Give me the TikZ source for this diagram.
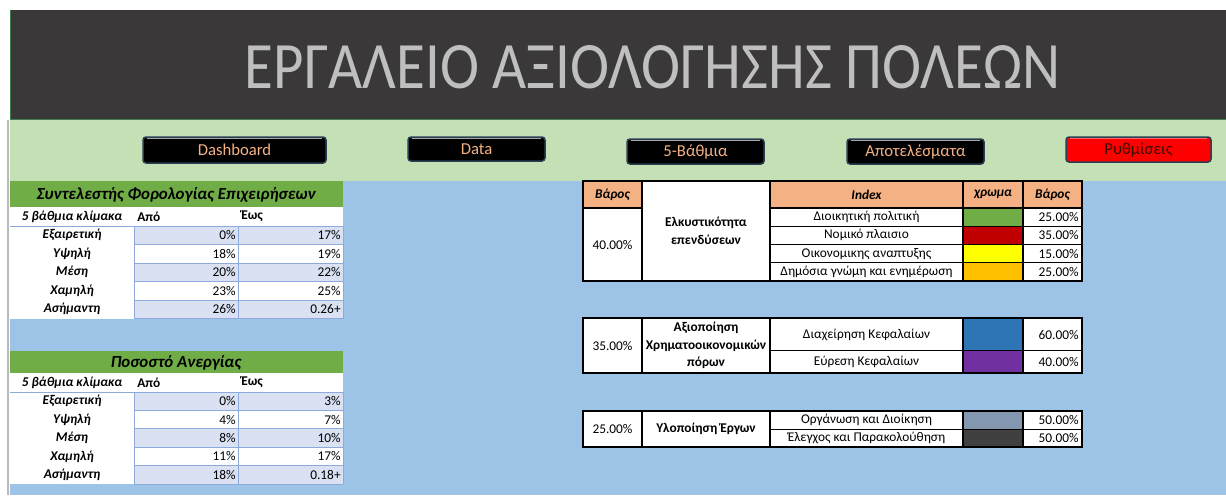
\documentclass[tikz,border=0pt]{standalone}
\usepackage{fontspec}
\usepackage{graphicx}
\setmainfont{Carlito}
\usetikzlibrary{positioning}

\definecolor{hdrdark}{HTML}{3A3838}
\definecolor{titlegray}{HTML}{BFBFBF}
\definecolor{bandgreen}{HTML}{C5E0B4}
\definecolor{sheetblue}{HTML}{9DC3E6}
\definecolor{edgegreen}{HTML}{3F7F4F}
\definecolor{tabgreen}{HTML}{70AD47}
\definecolor{rowblue}{HTML}{D9E1F2}
\definecolor{gridblue}{HTML}{8EA9DB}
\definecolor{peach}{HTML}{F4B183}
\definecolor{btnedge}{HTML}{2A3F55}
\definecolor{setred}{HTML}{FF0000}
\definecolor{settext}{HTML}{3A0C00}
\definecolor{idxgreen}{HTML}{70AD47}
\definecolor{idxred}{HTML}{C00000}
\definecolor{idxyellow}{HTML}{FFFF00}
\definecolor{idxamber}{HTML}{FFC000}
\definecolor{idxblue}{HTML}{2E75B6}
\definecolor{idxpurple}{HTML}{7030A0}
\definecolor{idxslate}{HTML}{8497B0}
\definecolor{idxdark}{HTML}{404040}

\newdimen\pxu \pxu=0.02cm

\tikzset{
    btn/.style={draw=btnedge, line width=1.5\pxu, fill=black, rounded corners=3\pxu,
        text=peach, inner sep=0pt, font=\fontsize{9.5}{11}\selectfont},
    tabhead/.style={inner sep=0pt, font=\fontsize{9.6}{11}\selectfont\bfseries\itshape},
    lab/.style={inner sep=0pt, font=\fontsize{7.6}{9}\selectfont\bfseries\itshape},
    num/.style={inner sep=0pt, anchor=east, font=\fontsize{7.6}{9}\selectfont},
    cell/.style={inner sep=0pt, font=\fontsize{7.6}{9}\selectfont},
    bcell/.style={inner sep=0pt, align=center, font=\fontsize{7.6}{10}\selectfont\bfseries},
    gridline/.style={draw=gridblue, line width=1\pxu},
    blk/.style={draw=black, line width=1.3\pxu},
    blkout/.style={draw=black, line width=2\pxu},
}

\begin{document}
\begin{tikzpicture}[x=0.02cm,y=-0.02cm]
    \useasboundingbox (0,0) rectangle (1226,495);

    %% sheet background
    \fill[white] (0,0) rectangle (1226,495);
    \fill[sheetblue] (10,181) rectangle (1226,495);
    \fill[bandgreen] (10,120) rectangle (1226,181);
    \fill[hdrdark] (10,10) rectangle (1226,119);
    \draw[edgegreen, line width=1.5\pxu] (10,119.5) -- (1226,119.5);
    \draw[edgegreen, line width=1\pxu] (10.5,10) -- (10.5,119);
    \draw[gray!55, line width=1.5\pxu] (8,120) -- (8,495);

    % title
    \node[inner sep=0pt, text=titlegray] (title) at (652.5,67.5)
        {\resizebox{815\pxu}{43\pxu}{ΕΡΓΑΛΕΙΟ ΑΞΙΟΛΟΓΗΣΗΣ ΠΟΛΕΩΝ}};

    %% buttons
    \node[btn, minimum width=183\pxu, minimum height=26\pxu] (dash) at (234.5,150) {Dashboard};
    \node[btn, minimum width=137\pxu, minimum height=24\pxu] (data) at (476.5,149) {Data};
    \node[btn, minimum width=137\pxu, minimum height=25\pxu] (grade) at (695.5,151.5) {5-Βάθμια};
    \node[btn, minimum width=137\pxu, minimum height=25\pxu] (results) at (915.5,151.5) {Αποτελέσματα};
    \node[btn, fill=setred, text=settext, minimum width=145\pxu, minimum height=25\pxu] (settings) at (1138.5,149.5) {Ρυθμίσεις};
    % glossy top edge
    \foreach \b/\c in {dash/gray!70, data/gray!70, grade/gray!70, results/gray!70, settings/red!60!white}
        \draw[\c, line width=1.2\pxu] ([xshift=5\pxu,yshift=-2.5\pxu]\b.north west) -- ([xshift=-5\pxu,yshift=-2.5\pxu]\b.north east);

    %% left table: tax rate
    \fill[tabgreen] (10,181) rectangle (343,207);
    \node[tabhead] (tax) at (176,194.5) {Συντελεστής Φορολογίας Επιχειρήσεων};
    \fill[white] (10,207) rectangle (343,318.5);
    \node[lab] (taxsc) at (72,216.5) {5 βάθμια κλίμακα};
    \node[bcell, anchor=west] (taxfr) at (137,216.5) {Από};
    \node[bcell, anchor=west] (taxto) at (241,216.5) {Έως};
    \foreach \i in {0,2,4}
        \fill[rowblue] (134,{226+18.5*\i}) rectangle (343,{244.5+18.5*\i});
    \draw[gridline] (10,226) -- (343,226);
    \foreach \i in {1,...,5}
        \draw[gridline] (134,{226+18.5*\i}) -- (343,{226+18.5*\i});
    \foreach \x in {134,238,343}
        \draw[gridline] (\x,226) -- (\x,318.5);
    \foreach \i/\lab/\lo/\hi in {0/Εξαιρετική/0\%/17\%, 1/Υψηλή/18\%/19\%,
            2/Μέση/20\%/22\%, 3/Χαμηλή/23\%/25\%, 4/Ασήμαντη/26\%/0.26+} {
        \node[lab] (taxl\i) at (72,{235.25+18.5*\i}) {\lab};
        \node[num] (taxf\i) at (236,{235.25+18.5*\i}) {\lo};
        \node[num] (taxt\i) at (341,{235.25+18.5*\i}) {\hi};
    }

    %% left table: unemployment
    \fill[tabgreen] (10,351) rectangle (343,373);
    \node[tabhead] (unemp) at (176,362.5) {Ποσοστό Ανεργίας};
    \fill[white] (10,373) rectangle (343,484);
    \node[lab] (unsc) at (72,382.5) {5 βάθμια κλίμακα};
    \node[bcell, anchor=west] (unfr) at (137,382.5) {Από};
    \node[bcell, anchor=west] (unto) at (241,382.5) {Έως};
    \foreach \i in {0,2,4}
        \fill[rowblue] (134,{392+18.4*\i}) rectangle (343,{410.4+18.4*\i});
    \draw[gridline] (10,392) -- (343,392);
    \foreach \i in {1,...,5}
        \draw[gridline] (134,{392+18.4*\i}) -- (343,{392+18.4*\i});
    \foreach \x in {134,238,343}
        \draw[gridline] (\x,392) -- (\x,484);
    \foreach \i/\lab/\lo/\hi in {0/Εξαιρετική/0\%/3\%, 1/Υψηλή/4\%/7\%,
            2/Μέση/8\%/10\%, 3/Χαμηλή/11\%/17\%, 4/Ασήμαντη/18\%/0.18+} {
        \node[lab] (unl\i) at (72,{401.2+18.4*\i}) {\lab};
        \node[num] (unf\i) at (236,{401.2+18.4*\i}) {\lo};
        \node[num] (unt\i) at (341,{401.2+18.4*\i}) {\hi};
    }

    %% index table 1: investment attractiveness
    \fill[white] (583,181) rectangle (1082,281);
    \fill[peach] (583,181) rectangle (642,208);
    \fill[peach] (770,181) rectangle (1082,208);
    \foreach \i/\c in {0/idxgreen, 1/idxred, 2/idxyellow, 3/idxamber}
        \fill[\c] (963,{208+18.25*\i}) rectangle (1023,{226.25+18.25*\i});
    \foreach \x in {642,770,963,1023}
        \draw[blk] (\x,181) -- (\x,281);
    \draw[blk] (583,208) -- (642,208);
    \foreach \i in {0,...,3}
        \draw[blk] (770,{208+18.25*\i}) -- (1082,{208+18.25*\i});
    \draw[blkout] (583,181) rectangle (1082,281);
    \node[lab] (wa) at (612.5,194.5) {Βάρος};
    \node[lab] (idxa) at (866.5,194.5) {Index};
    \node[lab] (cola) at (993,194.5) {χρωμα};
    \node[lab] (wb) at (1052.5,194.5) {Βάρος};
    \node[cell] (pa) at (612.5,244.5) {40.00\%};
    \node[bcell] (attr) at (706,231) {Ελκυστικότητα\\επενδύσεων};
    \foreach \i/\lab/\w in {0/Διοικητική πολιτική/25.00\%, 1/Νομικό πλαισιο/35.00\%,
            2/Οικονομικης αναπτυξης/15.00\%, 3/Δημόσια γνώμη και ενημέρωση/25.00\%} {
        \node[cell] (attrn\i) at (866.5,{217.1+18.25*\i}) {\lab};
        \node[num] (attrw\i) at (1079,{217.1+18.25*\i}) {\w};
    }

    %% index table 2: financial resources
    \fill[white] (583,318) rectangle (1082,373);
    \fill[idxblue] (963,318) rectangle (1023,350.7);
    \fill[idxpurple] (963,350.7) rectangle (1023,373);
    \foreach \x in {642,770,963,1023}
        \draw[blk] (\x,318) -- (\x,373);
    \draw[blk] (770,350.7) -- (1082,350.7);
    \draw[blkout] (583,318) rectangle (1082,373);
    \node[cell] (pb) at (612.5,345.5) {35.00\%};
    \node[bcell] (fin) at (706,345.5) {Αξιοποίηση\\Χρηματοοικονομικών\\πόρων};
    \node[cell] (finn0) at (866.5,335) {Διαχείρηση Κεφαλαίων};
    \node[num] (finw0) at (1079,335) {60.00\%};
    \node[cell] (finn1) at (866.5,362) {Εύρεση Κεφαλαίων};
    \node[num] (finw1) at (1079,362) {40.00\%};

    %% index table 3: project delivery
    \fill[white] (583,410.7) rectangle (1082,447.3);
    \fill[idxslate] (963,410.7) rectangle (1023,429.3);
    \fill[idxdark] (963,429.3) rectangle (1023,447.3);
    \foreach \x in {642,770,963,1023}
        \draw[blk] (\x,410.7) -- (\x,447.3);
    \draw[blk] (770,429.3) -- (1082,429.3);
    \draw[blkout] (583,410.7) rectangle (1082,447.3);
    \node[cell] (pc) at (612.5,429) {25.00\%};
    \node[bcell] (proj) at (706,429) {Υλοποίηση Έργων};
    \node[cell] (projn0) at (866.5,420) {Οργάνωση και Διοίκηση};
    \node[num] (projw0) at (1079,420) {50.00\%};
    \node[cell] (projn1) at (866.5,438.3) {Έλεγχος και Παρακολούθηση};
    \node[num] (projw1) at (1079,438.3) {50.00\%};
\end{tikzpicture}
\end{document}
